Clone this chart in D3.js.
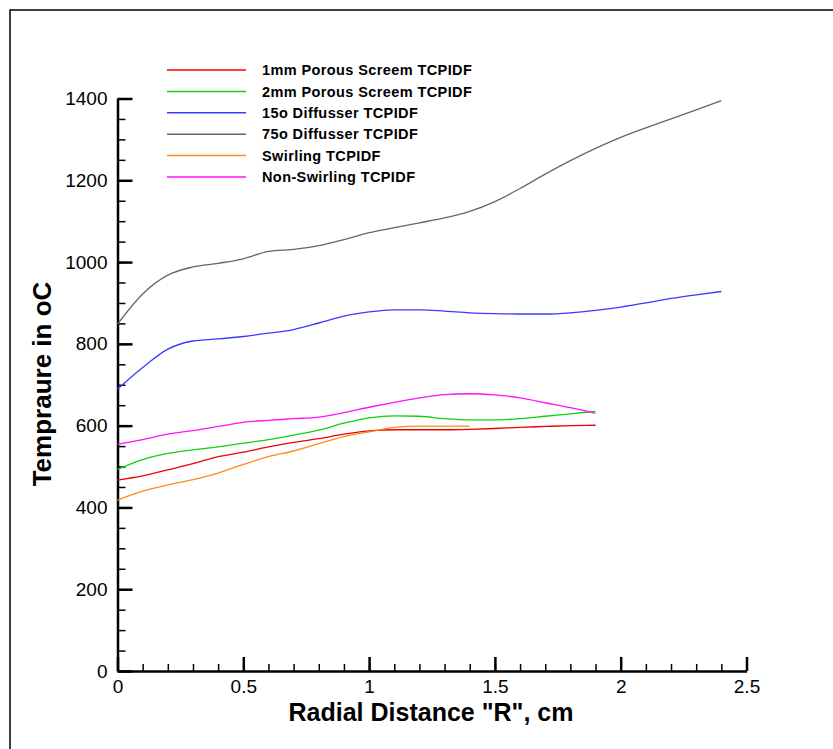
<!DOCTYPE html>
<html>
<meta charset="utf-8" />
<title>Temperature vs radial distance</title>
<head>
    <script src="https://d3js.org/d3.v7.min.js"></script>
    <style>
        body { margin: 0; background: #fff; }
        svg text { font-family: "Liberation Sans", Arial, sans-serif; fill: #000; }
    </style>
</head>
<body>
<div id="chart"></div>
<script type="text/javascript">
    // radial positions (cm) the curves were read at
    var radius = [0, 0.1, 0.2, 0.3, 0.4, 0.5, 0.6, 0.7, 0.8, 0.9, 1.0, 1.1, 1.2,
                  1.3, 1.4, 1.5, 1.6, 1.7, 1.8, 1.9, 2.0, 2.1, 2.2, 2.3, 2.4];

    var screen1mm = [467, 477, 492, 507, 524, 535, 548, 559, 568, 579, 587, 590, 590,
                     590, 591, 593, 596, 598, 600, 601];
    var screen2mm = [493, 517, 532, 541, 548, 557, 566, 577, 589, 606, 619, 624, 623,
                     617, 614, 614, 617, 623, 629, 635];
    var diffuser15 = [689, 742, 787, 807, 812, 818, 826, 835, 851, 868, 878, 883, 883,
                      880, 876, 874, 873, 873, 876, 882, 890, 900, 911, 920, 928];
    var diffuser75 = [848, 922, 968, 988, 997, 1008, 1026, 1031, 1040, 1055, 1072, 1084, 1096,
                      1108, 1124, 1148, 1180, 1215, 1248, 1278, 1305, 1328, 1350, 1372, 1395];
    var swirling = [418, 440, 455, 468, 484, 505, 524, 538, 556, 573, 585, 596, 599,
                    599, 599];
    var nonSwirling = [554, 566, 579, 588, 598, 608, 613, 617, 621, 632, 645, 657, 668,
                       676, 678, 675, 668, 656, 644, 630];

    var seriesNames = ["1mm Porous Screem TCPIDF", "2mm Porous Screem TCPIDF",
                       "15o Diffusser TCPIDF", "75o Diffusser TCPIDF",
                       "Swirling TCPIDF", "Non-Swirling TCPIDF"];
    var seriesValues = [screen1mm, screen2mm, diffuser15, diffuser75, swirling, nonSwirling];
    var seriesColors = ["#f00000", "#10d010", "#3a3aff", "#666666", "#ff8a1c", "#ff10ff"];

    var xTicks = [0, 0.5, 1, 1.5, 2, 2.5];
    var yTicks = [0, 200, 400, 600, 800, 1000, 1200, 1400];

    const W = 833, H = 749;

    var svg = d3.select("#chart").append("svg")
        .attr("width", W)
        .attr("height", H);

    // outer frame
    svg.append("rect")
        .attr("x", 10).attr("y", 10)
        .attr("width", 830).attr("height", 760)
        .attr("fill", "none")
        .attr("stroke", "#000")
        .attr("stroke-width", 1.5);

    var x = d3.scaleLinear().domain([0, 2.5]).range([117.5, 746.5]);
    var y = d3.scaleLinear().domain([0, 1400]).range([671, 98.5]);

    // minor ticks
    svg.append("g")
        .attr("transform", "translate(0,671)")
        .call(d3.axisBottom(x).tickValues(d3.range(0, 2.51, 0.1)).tickSize(-7).tickSizeOuter(0).tickFormat(""))
        .call(g => g.select(".domain").remove())
        .call(g => g.selectAll("line").attr("stroke-width", 1.5));
    svg.append("g")
        .attr("transform", "translate(117.5,0)")
        .call(d3.axisLeft(y).tickValues(d3.range(0, 1401, 50)).tickSize(-8).tickSizeOuter(0).tickFormat(""))
        .call(g => g.select(".domain").remove())
        .call(g => g.selectAll("line").attr("stroke-width", 1.5));

    // major ticks and labels
    var xAxis = svg.append("g")
        .attr("transform", "translate(0,671)")
        .call(d3.axisBottom(x).tickValues(xTicks).tickSize(-14).tickSizeOuter(0)
            .tickPadding(9).tickFormat(d3.format("~g")));
    var yAxis = svg.append("g")
        .attr("transform", "translate(117.5,0)")
        .call(d3.axisLeft(y).tickValues(yTicks).tickSize(-15).tickSizeOuter(0)
            .tickPadding(10).tickFormat(d3.format("d")));

    [xAxis, yAxis].forEach(function(g) {
        g.select(".domain").attr("stroke-width", 2.5);
        g.selectAll("line").attr("stroke-width", 2.5);
        g.selectAll("text").style("font-size", "19px").attr("fill", "#000");
    });

    // axis titles
    svg.append("text")
        .attr("x", 431).attr("y", 721)
        .attr("text-anchor", "middle")
        .style("font-size", "25px").style("font-weight", "bold")
        .text('Radial Distance "R", cm');
    svg.append("text")
        .attr("transform", "translate(51,384) rotate(-90)")
        .attr("text-anchor", "middle")
        .style("font-size", "26px").style("font-weight", "bold")
        .text("Tempraure in oC");

    // curves
    var line = d3.line()
        .x(function(d, i) { return x(radius[i]); })
        .y(function(d) { return y(d); })
        .curve(d3.curveMonotoneX);

    svg.selectAll(".curve")
        .data(seriesValues)
        .enter()
        .append("path")
        .attr("class", "curve")
        .attr("d", line)
        .attr("fill", "none")
        .attr("stroke", function(d, i) { return seriesColors[i]; })
        .attr("stroke-width", 1.3);

    // legend
    var legend = svg.selectAll(".legend")
        .data(seriesNames)
        .enter()
        .append("g")
        .attr("class", "legend")
        .attr("transform", function(d, i) { return "translate(0," + (70 + i * 21.4) + ")"; });
    legend.append("line")
        .attr("x1", 167).attr("x2", 246)
        .attr("stroke", function(d, i) { return seriesColors[i]; })
        .attr("stroke-width", 1.5);
    legend.append("text")
        .attr("x", 262).attr("dy", "0.36em")
        .style("font-size", "14.5px").style("font-weight", "bold")
        .style("letter-spacing", "0.4px")
        .text(function(d) { return d; });
</script>
</body>
</html>
